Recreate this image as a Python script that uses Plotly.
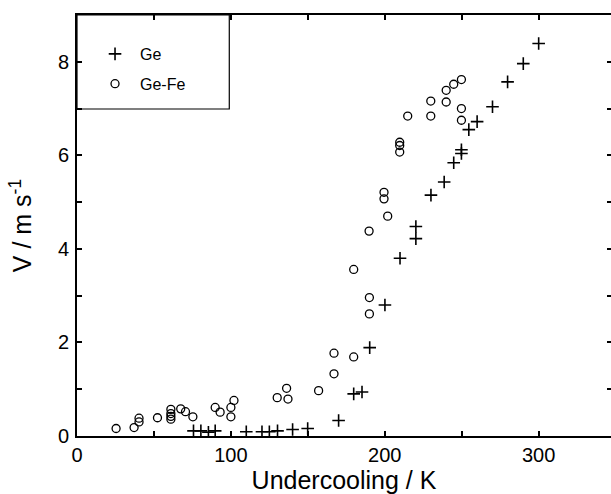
import plotly.graph_objects as go

# Ge (crosses)
ge_x = [75.7, 80.5, 85.4, 89.8, 110, 120.2, 125, 130.3, 140.1, 149.9, 170, 179.8,
        185.2, 190.2, 200.1, 209.9, 220.2, 220.2, 230, 238.6, 244.8, 249.8, 249.8,
        254.6, 260, 270, 279.8, 290, 300]
ge_y = [0.11, 0.11, 0.08, 0.11, 0.09, 0.09, 0.09, 0.11, 0.14, 0.16, 0.33, 0.90,
        0.94, 1.89, 2.80, 3.80, 4.48, 4.22, 5.15, 5.43, 5.84, 6.12, 6.04,
        6.55, 6.72, 7.04, 7.57, 7.96, 8.39]

# Ge-Fe (open circles)
gefe_x = [25.4, 37.1, 40.3, 40.3, 52.3, 61, 61, 61, 61, 67.4, 70.5, 75.3, 89.8, 93,
          100, 100, 102, 130.1, 136.2, 137.1, 157, 167, 167, 179.8, 179.8, 190, 190,
          189.8, 199.5, 199.5, 201.9, 209.7, 209.7, 209.7, 214.9, 229.9, 229.9,
          239.9, 239.9, 244.8, 249.8, 249.8, 249.8]
gefe_y = [0.16, 0.18, 0.38, 0.30, 0.39, 0.57, 0.48, 0.42, 0.36, 0.58, 0.52, 0.41, 0.61, 0.51,
          0.61, 0.41, 0.76, 0.82, 1.02, 0.79, 0.97, 1.33, 1.77, 1.69, 3.56, 2.96, 2.61,
          4.38, 5.21, 5.07, 4.70, 6.28, 6.21, 6.07, 6.84, 7.16, 6.84,
          7.39, 7.14, 7.52, 7.62, 7.00, 6.75]

x_range = [0, 347]
y_range = [0, 9]

FONT = "Liberation Sans, Arial, sans-serif"

fig = go.Figure()
fig.add_trace(go.Scatter(
    x=ge_x, y=ge_y, mode="markers", name="Ge", legendgroup="a",
    marker=dict(symbol="cross-thin", size=9, color="black",
                line=dict(width=1.6, color="black"))))
fig.add_trace(go.Scatter(
    x=gefe_x, y=gefe_y, mode="markers", name="Ge-Fe", legendgroup="b",
    marker=dict(symbol="circle-open", size=8, color="black",
                line=dict(width=1.3, color="black"))))
fig.add_trace(go.Scatter(x=[], y=[], yaxis="y2", showlegend=False, hoverinfo="skip"))

axis_common = dict(showgrid=False, zeroline=False, showline=True, linewidth=2,
                   linecolor="black", ticks="inside", ticklen=5, tickwidth=2,
                   tickcolor="black", automargin=False,
                   tickfont=dict(size=20, color="black", family=FONT))

fig.update_layout(
    width=611, height=494,
    margin=dict(l=77, r=0, t=15, b=58, autoexpand=False),
    paper_bgcolor="white", plot_bgcolor="white",
    font=dict(family=FONT, size=20, color="black"),
    xaxis=dict(range=x_range, tick0=0, dtick=100, mirror="ticks",
               minor=dict(dtick=50, tick0=0, ticks="inside", ticklen=5, tickwidth=2,
                          tickcolor="black", showgrid=False),
               title=dict(text="Undercooling / K", font=dict(size=25, family=FONT),
                          standoff=6),
               **axis_common),
    yaxis=dict(range=y_range, tick0=0, dtick=2, mirror=False, ticklabelstandoff=2,
               minor=dict(dtick=1, tick0=0, ticks="inside", ticklen=5, tickwidth=2,
                          tickcolor="black", showgrid=False),
               title=dict(text="V / m s<sup>-1</sup>", font=dict(size=25, family=FONT),
                          standoff=19),
               **axis_common),
    yaxis2=dict(overlaying="y", side="right", range=y_range, tick0=0, dtick=1,
                showticklabels=False, showgrid=False, zeroline=False, showline=False,
                automargin=False,
                ticks="inside", ticklen=4, tickwidth=2, tickcolor="black"),
    legend=dict(x=(90 - 77) / 533, y=1 - (37 - 15) / 421, xanchor="left", yanchor="top",
                bgcolor="rgba(0,0,0,0)", font=dict(size=16, family=FONT, color="black"),
                itemwidth=40, traceorder="grouped", tracegroupgap=6),
    shapes=[dict(type="rect", xref="paper", yref="paper",
                 x0=0, x1=(229 - 77) / 533, y0=(436 - 109) / 421, y1=1,
                 line=dict(width=1.2, color="black"))],
    showlegend=True,
)

fig.write_html("out.html", config={"displayModeBar": False},
               post_script="document.body.style.margin='0';"
                           "document.body.style.overflow='hidden';"
                           "document.documentElement.style.overflow='hidden';")
